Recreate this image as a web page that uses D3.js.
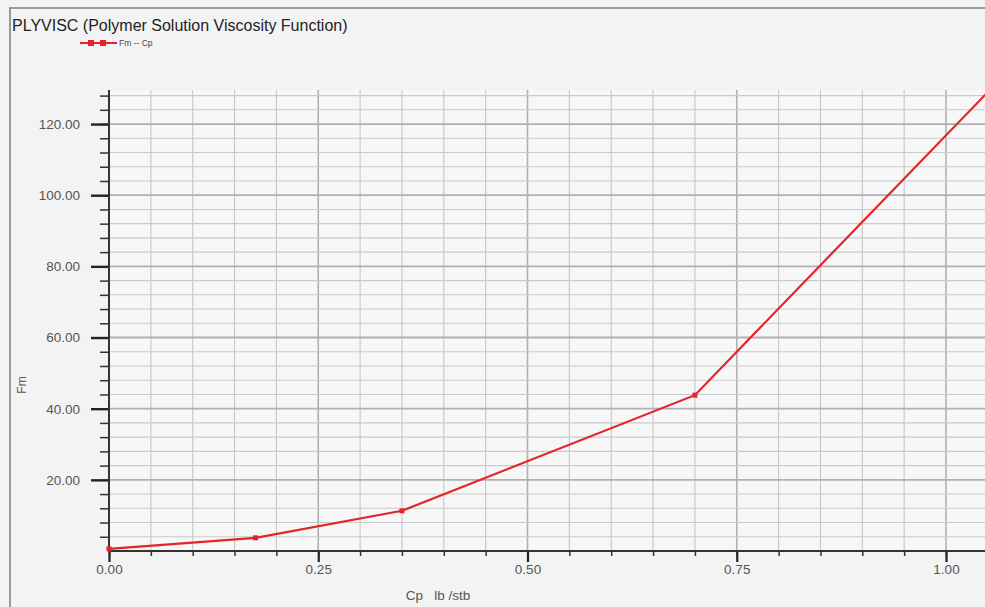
<!DOCTYPE html>
<html><head><meta charset="utf-8">
<script src="https://cdn.jsdelivr.net/npm/d3@7"></script>
<style>
html,body{margin:0;padding:0;background:#f3f3f3;}
svg{display:block;font-family:"Liberation Sans",Arial,sans-serif;}
</style></head>
<body>
<svg id="c" width="985" height="607"></svg>
<script>
// Data
const cpValues = [0.00, 0.175, 0.35, 0.70, 1.05];
const fmValues = [0.6, 3.7, 11.3, 43.8, 129.0];
const xTickLabels = ["0.00", "0.25", "0.50", "0.75", "1.00"];
const yTickLabels = ["20.00", "40.00", "60.00", "80.00", "100.00", "120.00"];
const chartTitle = "PLYVISC (Polymer Solution Viscosity Function)";
const legendLabel = "Fm -- Cp";
const xTitle = "Cp   lb /stb";
const yTitle = "Fm";

const svg = d3.select("#c");
const W = 985, H = 607;

svg.append("rect").attr("width", W).attr("height", H).attr("fill", "#f3f3f3");
// outer frame
svg.append("line").attr("x1", 10).attr("x2", 10).attr("y1", 8).attr("y2", H).attr("stroke", "#9a9a9a").attr("stroke-width", 2);
svg.append("line").attr("x1", 9).attr("x2", W).attr("y1", 8).attr("y2", 8).attr("stroke", "#9a9a9a").attr("stroke-width", 2);

const x = d3.scaleLinear().domain([0, 1.05]).range([109, 109 + 1.05 * 837]);
const y = d3.scaleLinear().domain([0, 129.6]).range([551, 551 - 129.6 * 3.558]);

const xTop = y(129.6), xBot = y(0);

// plot background
svg.append("rect").attr("x", x(0)).attr("y", xTop).attr("width", W - x(0)).attr("height", xBot - xTop).attr("fill", "#f7f7f7");

// grid
const xMinor = d3.range(0, 21).map(i => i * 0.05);
const yMinor = d3.range(1, 33).map(i => i * 4);
const isMajX = d => Math.abs(d / 0.25 - Math.round(d / 0.25)) < 1e-6;
const g = svg.append("g");
g.selectAll(".vg").data(xMinor.slice(1)).join("line")
  .attr("x1", d => x(d)).attr("x2", d => x(d)).attr("y1", xTop).attr("y2", xBot)
  .attr("stroke", d => isMajX(d) ? "#b0b0b0" : "#c6c6c6")
  .attr("stroke-width", d => isMajX(d) ? 1.6 : 1.1);
g.selectAll(".hg").data(yMinor).join("line")
  .attr("x1", x(0)).attr("x2", W).attr("y1", d => y(d)).attr("y2", d => y(d))
  .attr("stroke", d => d % 20 === 0 ? "#b0b0b0" : "#cacaca")
  .attr("stroke-width", d => d % 20 === 0 ? 1.8 : 1.1);

// axes
const axY = svg.append("g").attr("transform", `translate(${x(0)},0)`);
axY.call(d3.axisLeft(y).tickValues(yMinor).tickSize(9).tickFormat(""));
axY.select(".domain").remove();
axY.selectAll(".tick line").attr("stroke", "#333").attr("stroke-width", 1.5);
const axYMaj = svg.append("g").attr("transform", `translate(${x(0)},0)`);
axYMaj.call(d3.axisLeft(y).tickValues(yTickLabels.map(Number)).tickSize(18).tickPadding(11).tickFormat((d, i) => yTickLabels[i]));
axYMaj.select(".domain").remove();
axYMaj.selectAll(".tick line").attr("stroke", "#222").attr("stroke-width", 2.4);
axYMaj.selectAll(".tick text").attr("fill", "#555").attr("font-size", 13.5).attr("font-family", "Liberation Sans, Arial, sans-serif");
svg.append("line").attr("x1", x(0)).attr("x2", x(0)).attr("y1", xTop).attr("y2", xBot).attr("stroke", "#333").attr("stroke-width", 2);

const axX = svg.append("g").attr("transform", `translate(0,${xBot})`);
axX.call(d3.axisBottom(x).tickValues(xMinor).tickSize(5).tickFormat(""));
axX.select(".domain").remove();
axX.selectAll(".tick line").attr("stroke", "#333").attr("stroke-width", 1.5);
const axXMaj = svg.append("g").attr("transform", `translate(0,${xBot})`);
axXMaj.call(d3.axisBottom(x).tickValues(xTickLabels.map(Number)).tickSize(11).tickPadding(2).tickFormat((d, i) => xTickLabels[i]));
axXMaj.select(".domain").remove();
axXMaj.selectAll(".tick line").attr("stroke", "#222").attr("stroke-width", 2.2);
axXMaj.selectAll(".tick text").attr("fill", "#555").attr("font-size", 13.5).attr("font-family", "Liberation Sans, Arial, sans-serif");
svg.append("line").attr("x1", x(0)).attr("x2", W).attr("y1", xBot).attr("y2", xBot).attr("stroke", "#333").attr("stroke-width", 2);

// series
const pts = cpValues.map((c, i) => [c, fmValues[i]]);
const line = d3.line().x(d => x(d[0])).y(d => y(d[1]));
svg.append("path").datum(pts).attr("d", line).attr("fill", "none").attr("stroke", "#e3242b").attr("stroke-width", 2.2);
svg.selectAll(".m").data(pts.slice(0, 4)).join("rect")
  .attr("x", d => x(d[0]) - 2.5).attr("y", d => y(d[1]) - 2.5).attr("width", 5).attr("height", 5).attr("fill", "#e3242b");

// title
svg.append("text").attr("x", 12).attr("y", 31).attr("font-size", 16).attr("fill", "#222").text(chartTitle);

// legend
svg.append("line").attr("x1", 80).attr("x2", 117).attr("y1", 43).attr("y2", 43).attr("stroke", "#e3242b").attr("stroke-width", 2);
[91, 103].forEach(cx => svg.append("rect").attr("x", cx - 3).attr("y", 40).attr("width", 6).attr("height", 6).attr("fill", "#e3242b"));
svg.append("text").attr("x", 119).attr("y", 46).attr("font-size", 8.5).attr("fill", "#444").text(legendLabel);

// axis titles
svg.append("text").attr("x", 438).attr("y", 600).attr("text-anchor", "middle").attr("font-size", 13.5).attr("fill", "#555").attr("xml:space", "preserve").text(xTitle);
svg.append("text").attr("transform", "translate(26,385) rotate(-90)").attr("text-anchor", "middle").attr("font-size", 12).attr("fill", "#555").text(yTitle);
</script>
</body></html>
